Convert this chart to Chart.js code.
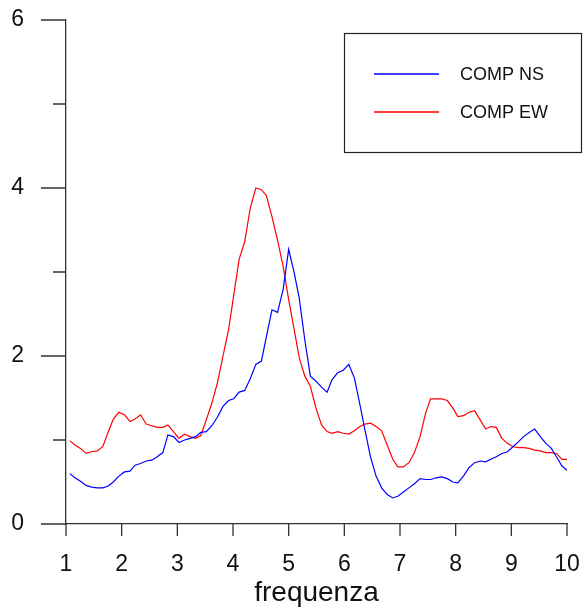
<!DOCTYPE html>
<html lang="it">
<head>
    <meta charset="UTF-8">
    <title>COMP NS / COMP EW</title>
    <script src="https://cdn.jsdelivr.net/npm/chart.js"></script>
    <style>
        body { margin: 0; background: #fff; }
        #wrap { width: 584px; height: 610px; }
    </style>
</head>
<body>
<div id="wrap"><canvas id="myChart" width="584" height="610"></canvas></div>

<script>
    // frequenze (asse x)
    const frequenze = [
        1.07, 1.16, 1.26, 1.36, 1.46, 1.56, 1.66, 1.75, 1.85, 1.95,
        2.05, 2.15, 2.24, 2.34, 2.44, 2.54, 2.64, 2.74, 2.83, 2.93,
        3.03, 3.13, 3.23, 3.33, 3.42, 3.52, 3.62, 3.72, 3.82, 3.92,
        4.01, 4.11, 4.21, 4.31, 4.41, 4.51, 4.60, 4.70, 4.80, 4.90,
        5.00, 5.10, 5.19, 5.29, 5.39, 5.49, 5.59, 5.69, 5.78, 5.88,
        5.98, 6.08, 6.18, 6.28, 6.37, 6.47, 6.57, 6.67, 6.77, 6.87,
        6.96, 7.06, 7.16, 7.26, 7.36, 7.46, 7.55, 7.65, 7.75, 7.85,
        7.95, 8.04, 8.14, 8.24, 8.34, 8.44, 8.54, 8.63, 8.73, 8.83,
        8.93, 9.03, 9.13, 9.22, 9.32, 9.42, 9.52, 9.62, 9.72, 9.81,
        9.91, 10.00
    ];

    const compNS = [
        0.60, 0.55, 0.51, 0.46, 0.44, 0.43, 0.43, 0.45, 0.50, 0.57,
        0.62, 0.63, 0.70, 0.72, 0.75, 0.76, 0.80, 0.85, 1.06, 1.04,
        0.97, 1.00, 1.02, 1.04, 1.09, 1.10, 1.17, 1.27, 1.40, 1.47,
        1.49, 1.57, 1.59, 1.73, 1.90, 1.94, 2.23, 2.55, 2.52, 2.79,
        3.27, 2.99, 2.69, 2.19, 1.76, 1.70, 1.63, 1.57, 1.72, 1.80,
        1.83, 1.90, 1.74, 1.42, 1.12, 0.80, 0.57, 0.43, 0.35, 0.31,
        0.33, 0.38, 0.43, 0.48, 0.54, 0.53, 0.53, 0.55, 0.56, 0.54,
        0.50, 0.49, 0.57, 0.67, 0.73, 0.75, 0.74, 0.77, 0.80, 0.84,
        0.86, 0.92, 0.98, 1.04, 1.09, 1.13, 1.04, 0.96, 0.90, 0.80,
        0.69, 0.64
    ];

    const compEW = [
        0.99, 0.94, 0.90, 0.84, 0.86, 0.87, 0.92, 1.08, 1.25, 1.33,
        1.30, 1.22, 1.25, 1.30, 1.19, 1.17, 1.15, 1.15, 1.18, 1.10,
        1.02, 1.07, 1.04, 1.02, 1.05, 1.24, 1.44, 1.68, 2.00, 2.31,
        2.71, 3.15, 3.36, 3.76, 4.00, 3.98, 3.91, 3.66, 3.38, 3.07,
        2.67, 2.31, 1.98, 1.76, 1.64, 1.38, 1.18, 1.10, 1.08, 1.10,
        1.08, 1.07, 1.11, 1.16, 1.19, 1.20, 1.16, 1.11, 0.94, 0.77,
        0.68, 0.68, 0.73, 0.85, 1.04, 1.32, 1.49, 1.49, 1.49, 1.47,
        1.38, 1.28, 1.29, 1.33, 1.35, 1.24, 1.13, 1.16, 1.15, 1.02,
        0.96, 0.92, 0.91, 0.91, 0.90, 0.88, 0.87, 0.85, 0.85, 0.84,
        0.77, 0.77
    ];

    const etichette = ['COMP NS', 'COMP EW'];
    const colori = ['#0000ff', '#ff0000'];

    const FONT = '"Liberation Sans", Arial, sans-serif';
    const AXIS = '#333333';

    function punti(valori) {
        return frequenze.map((f, i) => ({ x: f, y: valori[i] }));
    }

    // niente margini automatici per le etichette: l'area del grafico resta fissa
    function senzaMargini(scale) {
        scale.paddingTop = 0;
        scale.paddingBottom = 0;
        scale.paddingLeft = 0;
        scale.paddingRight = 0;
    }

    // tacche degli assi e riquadro della legenda
    const tacche = {
        id: 'tacche',
        afterDraw(chart) {
            const ctx = chart.ctx;
            const area = chart.chartArea;
            const x = chart.scales.x;
            const y = chart.scales.y;
            ctx.save();
            ctx.strokeStyle = AXIS;
            ctx.lineWidth = 1.3;
            ctx.beginPath();
            y.ticks.forEach(t => {
                const py = y.getPixelForValue(t.value);
                const len = t.value % 2 === 0 ? 25 : 13;
                ctx.moveTo(area.left - len, py);
                ctx.lineTo(area.left, py);
            });
            x.ticks.forEach(t => {
                const px = x.getPixelForValue(t.value);
                ctx.moveTo(px, area.bottom);
                ctx.lineTo(px, area.bottom + 12);
            });
            ctx.stroke();

            // legenda
            ctx.lineWidth = 1.2;
            ctx.strokeStyle = '#222';
            ctx.strokeRect(344.5, 33.5, 237, 119);
            ctx.font = '18px ' + FONT;
            ctx.textBaseline = 'middle';
            ctx.fillStyle = '#111';
            ctx.lineWidth = 1.4;
            etichette.forEach((testo, i) => {
                const ly = i === 0 ? 74 : 112;
                ctx.beginPath();
                ctx.strokeStyle = colori[i];
                ctx.moveTo(374, ly);
                ctx.lineTo(439, ly);
                ctx.stroke();
                ctx.fillText(testo, 460, ly + 1);
            });
            ctx.restore();
        }
    };

    const ctx = document.getElementById('myChart');

    new Chart(ctx, {
        type: 'line',
        data: {
            datasets: [
                {
                    label: etichette[0],
                    data: punti(compNS),
                    borderColor: colori[0],
                    borderWidth: 1.2,
                    pointRadius: 0,
                    tension: 0
                },
                {
                    label: etichette[1],
                    data: punti(compEW),
                    borderColor: colori[1],
                    borderWidth: 1.2,
                    pointRadius: 0,
                    tension: 0
                }
            ]
        },
        options: {
            responsive: false,
            animation: false,
            layout: { padding: { left: 0, right: 17, top: 20, bottom: 0 } },
            plugins: {
                legend: { display: false },
                tooltip: { enabled: false }
            },
            scales: {
                x: {
                    type: 'linear',
                    min: 1,
                    max: 10,
                    grid: { display: false, drawTicks: false },
                    border: { display: true, color: AXIS, width: 1.3 },
                    ticks: {
                        stepSize: 1,
                        padding: 27,
                        color: '#111',
                        font: { family: FONT, size: 23 },
                        maxRotation: 0
                    },
                    title: {
                        display: true,
                        text: 'frequenza',
                        color: '#111',
                        font: { family: FONT, size: 28 },
                        padding: { top: 0, bottom: 0 }
                    },
                    afterFit(scale) {
                        scale.height = 86;
                        senzaMargini(scale);
                    }
                },
                y: {
                    min: 0,
                    max: 6,
                    grid: { display: false, drawTicks: false },
                    border: { display: true, color: AXIS, width: 1.3 },
                    ticks: {
                        stepSize: 1,
                        padding: 42,
                        color: '#111',
                        font: { family: FONT, size: 23 },
                        callback: v => (v % 2 === 0 ? v : '')
                    },
                    afterFit(scale) {
                        scale.width = 66;
                        senzaMargini(scale);
                    }
                }
            }
        },
        plugins: [tacche]
    });
</script>
</body>
</html>
